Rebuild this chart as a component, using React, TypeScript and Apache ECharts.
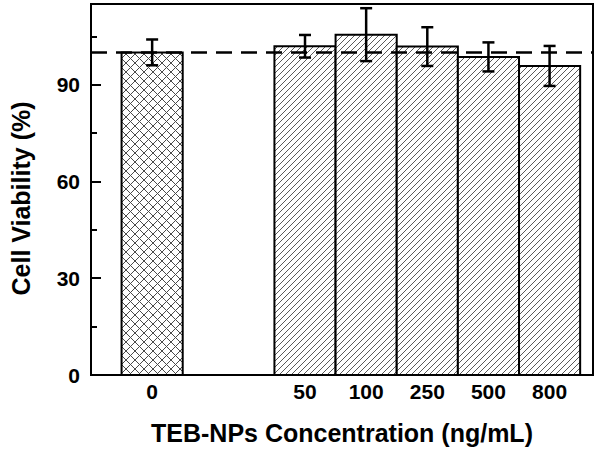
import { useEffect, useRef } from "react";
import * as echarts from "echarts";

// ---- data ----
const categories = ["0", "50", "100", "250", "500", "800"];
const slotPositions = [1, 3.5, 4.5, 5.5, 6.5, 7.5];
const viability = [100, 101.9, 105.5, 101.8, 98.6, 95.8];
const errors = [4, 3.5, 8.2, 6, 4.5, 6.2];
const controlLevel = 100;
const yLabelStep = 30;
const yMinorStep = 15;
const yMax = 115;
const xMax = 8.21;

const FONT = "'Liberation Sans', Arial, Helvetica, sans-serif";

function makeHatch(cross: boolean, period: number, color: string) {
  const c = document.createElement("canvas");
  c.width = period;
  c.height = period;
  const ctx = c.getContext("2d")!;
  ctx.fillStyle = "#ffffff";
  ctx.fillRect(0, 0, period, period);
  ctx.strokeStyle = color;
  ctx.lineWidth = 1;
  ctx.beginPath();
  for (let k = -1; k <= 1; k++) {
    ctx.moveTo(k * period - 1, period + 1);
    ctx.lineTo(k * period + period + 1, -1);
    if (cross) {
      ctx.moveTo(k * period - 1, -1);
      ctx.lineTo(k * period + period + 1, period + 1);
    }
  }
  ctx.stroke();
  return c;
}

export default function App() {
  const ref = useRef<HTMLDivElement>(null);

  useEffect(() => {
    if (!ref.current) return;
    const chart = echarts.init(ref.current, undefined, { renderer: "svg" });

    const crossPattern = { image: makeHatch(true, 9, "#4a4a4a"), repeat: "repeat" };
    const slashPattern = { image: makeHatch(false, 6, "#5a5a5a"), repeat: "repeat" };

    const barData = slotPositions.map((x, i) => [x, viability[i]]);
    const errData = slotPositions.map((x, i) => [x, viability[i] - errors[i], viability[i] + errors[i]]);

    const labelFor = (v: number) => {
      const i = slotPositions.findIndex((p) => Math.abs(p - v) < 1e-6);
      return i >= 0 ? categories[i] : "";
    };

    const yAxisCommon = {
      type: "value",
      min: 0,
      max: yMax,
      position: "left",
      splitLine: { show: false },
      axisLine: { show: true, lineStyle: { color: "#000", width: 2 } },
    };

    chart.setOption({
      animation: false,
      backgroundColor: "#ffffff",
      grid: {
        left: 88,
        right: 9,
        top: 4,
        bottom: 79,
        show: true,
        borderColor: "#000",
        borderWidth: 2,
        backgroundColor: "transparent",
      },
      xAxis: {
        type: "value",
        min: 0,
        max: xMax,
        interval: 0.5,
        splitLine: { show: false },
        axisTick: { show: false },
        axisLine: { show: true, onZero: false, lineStyle: { color: "#000", width: 2 } },
        axisLabel: {
          formatter: (v: number) => labelFor(v),
          fontFamily: FONT,
          fontWeight: "bold",
          fontSize: 21,
          color: "#000",
          margin: 6,
          showMaxLabel: false,
        },
        name: "TEB-NPs Concentration (ng/mL)",
        nameLocation: "middle",
        nameGap: 45,
        nameTextStyle: { fontFamily: FONT, fontWeight: "bold", fontSize: 25, color: "#000" },
      },
      yAxis: [
        {
          ...yAxisCommon,
          interval: yMinorStep,
          axisTick: { show: true, inside: true, length: 6, lineStyle: { color: "#000", width: 2 } },
          axisLabel: { show: false },
        },
        {
          ...yAxisCommon,
          interval: yLabelStep,
          axisTick: { show: true, inside: true, length: 10, lineStyle: { color: "#000", width: 2 } },
          axisLabel: {
            show: true,
            showMaxLabel: false,
            fontFamily: FONT,
            fontWeight: "bold",
            fontSize: 21,
            color: "#000",
            margin: 11,
          },
          name: "Cell Viability (%)",
          nameLocation: "middle",
          nameGap: 58,
          nameTextStyle: {
            fontFamily: FONT,
            fontWeight: "bold",
            fontSize: 25,
            color: "#000",
            padding: [0, 18, 0, 0],
          },
        },
      ],
      series: [
        {
          type: "custom",
          xAxisIndex: 0,
          yAxisIndex: 0,
          z: 2,
          data: barData,
          renderItem: (params: any, api: any) => {
            const x = api.value(0);
            const y = api.value(1);
            const top = api.coord([x, y]);
            const base = api.coord([x, 0]);
            const w = api.size([1, 0])[0];
            return {
              type: "rect",
              shape: { x: top[0] - w / 2, y: top[1], width: w, height: base[1] - top[1] },
              style: {
                fill: params.dataIndex === 0 ? crossPattern : slashPattern,
                stroke: "#000",
                lineWidth: 2,
              },
            };
          },
        },
        {
          type: "line",
          xAxisIndex: 0,
          yAxisIndex: 0,
          z: 4,
          symbol: "none",
          data: [
            [0, controlLevel],
            [xMax, controlLevel],
          ],
          lineStyle: { color: "#000", width: 2.5, type: [16, 9] },
        },
        {
          type: "custom",
          xAxisIndex: 0,
          yAxisIndex: 0,
          z: 5,
          data: errData,
          renderItem: (_params: any, api: any) => {
            const x = api.value(0);
            const lo = api.coord([x, api.value(1)]);
            const hi = api.coord([x, api.value(2)]);
            const half = 6;
            const st = { stroke: "#000", lineWidth: 2.5 };
            return {
              type: "group",
              children: [
                { type: "line", shape: { x1: lo[0], y1: lo[1], x2: hi[0], y2: hi[1] }, style: st },
                { type: "line", shape: { x1: hi[0] - half, y1: hi[1], x2: hi[0] + half, y2: hi[1] }, style: st },
                { type: "line", shape: { x1: lo[0] - half, y1: lo[1], x2: lo[0] + half, y2: lo[1] }, style: st },
              ],
            };
          },
        },
      ],
    });

    return () => chart.dispose();
  }, []);

  return (
    <div
      ref={ref}
      style={{ position: "fixed", left: 0, top: 0, width: 602, height: 454, background: "#fff" }}
    />
  );
}
